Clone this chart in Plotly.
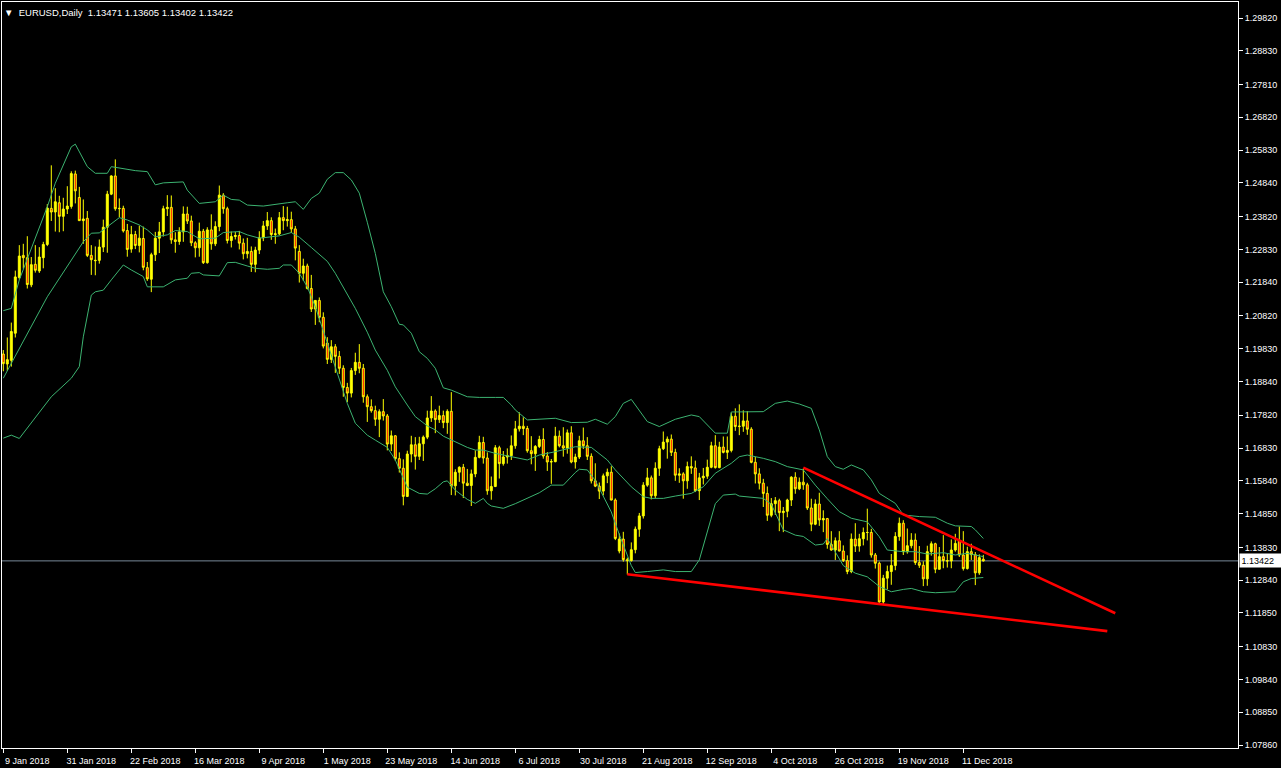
import plotly.graph_objects as go

# ---------------- data ----------------
symbol_title = "EURUSD,Daily"
date_labels = ["9 Jan 2018", "31 Jan 2018", "22 Feb 2018", "16 Mar 2018", "9 Apr 2018",
               "1 May 2018", "23 May 2018", "14 Jun 2018", "6 Jul 2018", "30 Jul 2018",
               "21 Aug 2018", "12 Sep 2018", "4 Oct 2018", "26 Oct 2018", "19 Nov 2018",
               "11 Dec 2018"]
date_label_bars = [0, 16, 32, 48, 64, 80, 96, 112, 128, 144, 160, 176, 192, 208, 224, 240]

opens = [1.1967, 1.1937, 1.1948, 1.2030, 1.2198, 1.2265, 1.2258, 1.2176, 1.2238, 1.2218,
         1.2258, 1.2298, 1.2407, 1.2396, 1.2424, 1.2383, 1.2405, 1.2413, 1.2511, 1.2440,
         1.2370, 1.2377, 1.2265, 1.2249, 1.2250, 1.2290, 1.2350, 1.2450, 1.2505, 1.2406,
         1.2407, 1.2340, 1.2284, 1.2328, 1.2295, 1.2316, 1.2228, 1.2193, 1.2267, 1.2317,
         1.2336, 1.2406, 1.2410, 1.2312, 1.2307, 1.2336, 1.2390, 1.2369, 1.2303, 1.2288,
         1.2338, 1.2243, 1.2342, 1.2300, 1.2352, 1.2447, 1.2406, 1.2310, 1.2322, 1.2325,
         1.2302, 1.2270, 1.2277, 1.2238, 1.2281, 1.2318, 1.2354, 1.2370, 1.2328, 1.2330,
         1.2379, 1.2370, 1.2373, 1.2345, 1.2277, 1.2211, 1.2233, 1.2165, 1.2103, 1.2129,
         1.2078, 1.2000, 1.1951, 1.1989, 1.1960, 1.1924, 1.1866, 1.1849, 1.1917, 1.1942,
         1.1924, 1.1838, 1.1808, 1.1796, 1.1770, 1.1793, 1.1780, 1.1695, 1.1720, 1.1651,
         1.1622, 1.1537, 1.1665, 1.1693, 1.1658, 1.1696, 1.1716, 1.1774, 1.1795, 1.1769,
         1.1781, 1.1760, 1.1794, 1.1569, 1.1610, 1.1625, 1.1577, 1.1570, 1.1605, 1.1655,
         1.1700, 1.1653, 1.1554, 1.1567, 1.1684, 1.1636, 1.1656, 1.1660, 1.1690, 1.1741,
         1.1749, 1.1742, 1.1675, 1.1666, 1.1688, 1.1709, 1.1659, 1.1641, 1.1642, 1.1719,
         1.1690, 1.1683, 1.1729, 1.1641, 1.1656, 1.1705, 1.1690, 1.1658, 1.1584, 1.1568,
         1.1553, 1.1599, 1.1610, 1.1526, 1.1372, 1.1408, 1.1346, 1.1343, 1.1376, 1.1438,
         1.1478, 1.1571, 1.1593, 1.1539, 1.1622, 1.1681, 1.1701, 1.1710, 1.1670, 1.1601,
         1.1605, 1.1584, 1.1627, 1.1623, 1.1554, 1.1593, 1.1598, 1.1625, 1.1690, 1.1624,
         1.1686, 1.1670, 1.1676, 1.1779, 1.1748, 1.1749, 1.1765, 1.1740, 1.1640, 1.1605,
         1.1577, 1.1546, 1.1480, 1.1515, 1.1524, 1.1488, 1.1492, 1.1526, 1.1595, 1.1560,
         1.1580, 1.1572, 1.1502, 1.1453, 1.1514, 1.1466, 1.1470, 1.1392, 1.1375, 1.1403,
         1.1372, 1.1343, 1.1310, 1.1408, 1.1387, 1.1409, 1.1428, 1.1428, 1.1360, 1.1335,
         1.1218, 1.1290, 1.1310, 1.1328, 1.1416, 1.1456, 1.1370, 1.1388, 1.1405, 1.1337,
         1.1329, 1.1288, 1.1370, 1.1394, 1.1317, 1.1355, 1.1343, 1.1342, 1.1375, 1.1404,
         1.1360, 1.1319, 1.1370, 1.1361, 1.1306, 1.13471]
highs = [1.1979, 1.2017, 1.2062, 1.2219, 1.2296, 1.2300, 1.2323, 1.2260, 1.2296, 1.2290,
         1.2306, 1.2420, 1.2537, 1.2468, 1.2445, 1.2439, 1.2474, 1.2519, 1.2521, 1.2472,
         1.2434, 1.2399, 1.2296, 1.2292, 1.2313, 1.2373, 1.2460, 1.2507, 1.2555, 1.2437,
         1.2415, 1.2360, 1.2354, 1.2339, 1.2355, 1.2352, 1.2245, 1.2273, 1.2336, 1.2366,
         1.2415, 1.2447, 1.2446, 1.2335, 1.2350, 1.2413, 1.2412, 1.2385, 1.2308, 1.2364,
         1.2345, 1.2350, 1.2389, 1.2368, 1.2476, 1.2453, 1.2412, 1.2337, 1.2336, 1.2339,
         1.2316, 1.2318, 1.2292, 1.2291, 1.2338, 1.2369, 1.2396, 1.2380, 1.2346, 1.2396,
         1.2414, 1.2412, 1.2397, 1.2354, 1.2296, 1.2255, 1.2240, 1.2206, 1.2130, 1.2138,
         1.2093, 1.2018, 1.2009, 1.1997, 1.1976, 1.1933, 1.1880, 1.1925, 1.1971, 1.1997,
         1.1937, 1.1845, 1.1830, 1.1811, 1.1800, 1.1831, 1.1786, 1.1736, 1.1722, 1.1670,
         1.1649, 1.1675, 1.1720, 1.1716, 1.1717, 1.1721, 1.1796, 1.1840, 1.1800, 1.1811,
         1.1796, 1.1800, 1.1852, 1.1619, 1.1628, 1.1635, 1.1620, 1.1618, 1.1676, 1.1720,
         1.1717, 1.1670, 1.1597, 1.1692, 1.1690, 1.1674, 1.1682, 1.1721, 1.1765, 1.1791,
         1.1776, 1.1750, 1.1719, 1.1692, 1.1720, 1.1743, 1.1671, 1.1650, 1.1747, 1.1736,
         1.1746, 1.1739, 1.1749, 1.1666, 1.1720, 1.1745, 1.1716, 1.1667, 1.1637, 1.1579,
         1.1606, 1.1621, 1.1628, 1.1531, 1.1425, 1.1430, 1.1352, 1.1398, 1.1446, 1.1487,
         1.1580, 1.1623, 1.1600, 1.1640, 1.1690, 1.1733, 1.1718, 1.1724, 1.1681, 1.1622,
         1.1610, 1.1642, 1.1658, 1.1645, 1.1608, 1.1623, 1.1648, 1.1702, 1.1722, 1.1702,
         1.1718, 1.1718, 1.1790, 1.1803, 1.1815, 1.1797, 1.1795, 1.1746, 1.1656, 1.1622,
         1.1590, 1.1567, 1.1532, 1.1535, 1.1530, 1.1505, 1.1530, 1.1598, 1.1610, 1.1594,
         1.1621, 1.1578, 1.1530, 1.1528, 1.1548, 1.1495, 1.1472, 1.1432, 1.1413, 1.1432,
         1.1389, 1.1359, 1.1425, 1.1456, 1.1424, 1.1443, 1.1500, 1.1439, 1.1366, 1.1340,
         1.1300, 1.1328, 1.1363, 1.1429, 1.1473, 1.1465, 1.1440, 1.1426, 1.1425, 1.1387,
         1.1341, 1.1388, 1.1401, 1.1397, 1.1384, 1.1420, 1.1365, 1.1407, 1.1424, 1.1446,
         1.1432, 1.1385, 1.1394, 1.1369, 1.1362, 1.13605]
lows = [1.1915, 1.1916, 1.1929, 1.2017, 1.2192, 1.2225, 1.2165, 1.2169, 1.2213, 1.2212,
        1.2226, 1.2293, 1.2369, 1.2337, 1.2335, 1.2338, 1.2390, 1.2406, 1.2422, 1.2371,
        1.2300, 1.2260, 1.2206, 1.2205, 1.2240, 1.2275, 1.2273, 1.2447, 1.2400, 1.2380,
        1.2334, 1.2261, 1.2273, 1.2284, 1.2274, 1.2220, 1.2188, 1.2154, 1.2248, 1.2272,
        1.2322, 1.2384, 1.2300, 1.2273, 1.2297, 1.2306, 1.2360, 1.2293, 1.2259, 1.2261,
        1.2239, 1.2240, 1.2282, 1.2293, 1.2338, 1.2391, 1.2301, 1.2289, 1.2313, 1.2283,
        1.2253, 1.2256, 1.2215, 1.2214, 1.2269, 1.2308, 1.2342, 1.2312, 1.2300, 1.2326,
        1.2341, 1.2352, 1.2333, 1.2250, 1.2183, 1.2188, 1.2162, 1.2094, 1.2055, 1.2063,
        1.1984, 1.1937, 1.1940, 1.1910, 1.1907, 1.1838, 1.1822, 1.1836, 1.1904, 1.1909,
        1.1820, 1.1762, 1.1790, 1.1750, 1.1716, 1.1766, 1.1676, 1.1674, 1.1644, 1.1609,
        1.1510, 1.1535, 1.1640, 1.1618, 1.1647, 1.1644, 1.1710, 1.1762, 1.1728, 1.1759,
        1.1743, 1.1726, 1.1541, 1.1540, 1.1581, 1.1532, 1.1568, 1.1508, 1.1595, 1.1652,
        1.1636, 1.1542, 1.1527, 1.1565, 1.1591, 1.1630, 1.1636, 1.1647, 1.1681, 1.1733,
        1.1722, 1.1669, 1.1634, 1.1614, 1.1683, 1.1651, 1.1614, 1.1575, 1.1640, 1.1685,
        1.1657, 1.1666, 1.1637, 1.1621, 1.1650, 1.1680, 1.1647, 1.1576, 1.1565, 1.1529,
        1.1540, 1.1577, 1.1525, 1.1405, 1.1365, 1.1340, 1.1301, 1.1340, 1.1365, 1.1415,
        1.1470, 1.1566, 1.1528, 1.1532, 1.1599, 1.1677, 1.1651, 1.1659, 1.1584, 1.1578,
        1.1530, 1.1560, 1.1605, 1.1550, 1.1526, 1.1573, 1.1590, 1.1622, 1.1621, 1.1622,
        1.1667, 1.1650, 1.1670, 1.1735, 1.1722, 1.1732, 1.1723, 1.1637, 1.1576, 1.1558,
        1.1505, 1.1463, 1.1474, 1.1481, 1.1432, 1.1429, 1.1474, 1.1508, 1.1545, 1.1556,
        1.1557, 1.1496, 1.1432, 1.1450, 1.1448, 1.1429, 1.1379, 1.1373, 1.1345, 1.1371,
        1.1339, 1.1302, 1.1305, 1.1369, 1.1370, 1.1389, 1.1404, 1.1352, 1.1319, 1.1216,
        1.1212, 1.1256, 1.1270, 1.1314, 1.1403, 1.1360, 1.1364, 1.1380, 1.1330, 1.1321,
        1.1266, 1.1267, 1.1358, 1.1305, 1.1316, 1.1320, 1.1322, 1.1320, 1.1370, 1.1354,
        1.1313, 1.1316, 1.1345, 1.1269, 1.1300, 1.13402]
closes = [1.1938, 1.1950, 1.2035, 1.2200, 1.2263, 1.2258, 1.2177, 1.2237, 1.2220, 1.2260,
          1.2298, 1.2408, 1.2396, 1.2427, 1.2383, 1.2405, 1.2414, 1.2512, 1.2460, 1.2370,
          1.2375, 1.2265, 1.2252, 1.2250, 1.2290, 1.2350, 1.2450, 1.2505, 1.2406, 1.2407,
          1.2339, 1.2283, 1.2328, 1.2295, 1.2317, 1.2229, 1.2194, 1.2267, 1.2317, 1.2336,
          1.2406, 1.2410, 1.2312, 1.2307, 1.2336, 1.2390, 1.2369, 1.2303, 1.2288, 1.2338,
          1.2243, 1.2342, 1.2300, 1.2352, 1.2447, 1.2406, 1.2310, 1.2322, 1.2325, 1.2302,
          1.2270, 1.2277, 1.2238, 1.2281, 1.2318, 1.2354, 1.2370, 1.2328, 1.2330, 1.2379,
          1.2370, 1.2373, 1.2345, 1.2287, 1.2211, 1.2233, 1.2165, 1.2103, 1.2129, 1.2078,
          1.1991, 1.1951, 1.1989, 1.1960, 1.1924, 1.1866, 1.1849, 1.1917, 1.1942, 1.1924,
          1.1838, 1.1808, 1.1796, 1.1770, 1.1793, 1.1780, 1.1695, 1.1720, 1.1651, 1.1622,
          1.1537, 1.1665, 1.1693, 1.1658, 1.1696, 1.1716, 1.1774, 1.1795, 1.1769, 1.1781,
          1.1760, 1.1794, 1.1569, 1.1610, 1.1625, 1.1577, 1.1570, 1.1605, 1.1655, 1.1700,
          1.1653, 1.1554, 1.1567, 1.1684, 1.1636, 1.1656, 1.1660, 1.1690, 1.1741, 1.1749,
          1.1742, 1.1675, 1.1666, 1.1688, 1.1709, 1.1659, 1.1641, 1.1642, 1.1719, 1.1690,
          1.1683, 1.1729, 1.1641, 1.1656, 1.1705, 1.1690, 1.1658, 1.1584, 1.1568, 1.1553,
          1.1599, 1.1610, 1.1526, 1.1410, 1.1408, 1.1346, 1.1343, 1.1376, 1.1438, 1.1478,
          1.1571, 1.1593, 1.1539, 1.1622, 1.1681, 1.1701, 1.1710, 1.1670, 1.1601, 1.1605,
          1.1584, 1.1627, 1.1623, 1.1554, 1.1593, 1.1598, 1.1625, 1.1690, 1.1624, 1.1686,
          1.1670, 1.1676, 1.1779, 1.1748, 1.1749, 1.1765, 1.1740, 1.1640, 1.1605, 1.1577,
          1.1546, 1.1480, 1.1515, 1.1524, 1.1488, 1.1492, 1.1526, 1.1595, 1.1560, 1.1580,
          1.1572, 1.1502, 1.1453, 1.1514, 1.1466, 1.1470, 1.1392, 1.1375, 1.1403, 1.1372,
          1.1343, 1.1310, 1.1408, 1.1387, 1.1409, 1.1428, 1.1428, 1.1360, 1.1335, 1.1218,
          1.1290, 1.1310, 1.1328, 1.1416, 1.1456, 1.1370, 1.1388, 1.1405, 1.1337, 1.1329,
          1.1288, 1.1370, 1.1394, 1.1317, 1.1355, 1.1343, 1.1342, 1.1375, 1.1395, 1.1360,
          1.1319, 1.1370, 1.1361, 1.1306, 1.1352, 1.13422]
bars = list(range(len(closes)))

# Bollinger bands (20, 2) at sample bars
bb_upper_bars = [0, 2, 4, 11, 13, 17, 18, 21, 23, 26, 27, 33, 36, 38, 40, 45, 46, 49, 53, 55,
                 57, 59, 61, 65, 71, 73, 75, 77, 79, 81, 83, 85, 87, 89, 91, 93, 95, 97, 99, 100,
                 102, 104, 106, 108, 110, 112, 116, 119, 123, 125, 127, 128, 131, 134, 138, 142,
                 146, 148, 151, 153, 155, 157, 161, 164, 168, 172, 174, 178, 181, 182, 190, 193,
                 196, 199, 202, 204, 206, 208, 210, 212, 215, 217, 219, 223, 225, 229, 233, 236,
                 238, 242, 243, 245]
bb_upper = [1.2098, 1.2105, 1.2191, 1.2412, 1.2483, 1.2593, 1.2601, 1.2533, 1.2513, 1.2513,
            1.2533, 1.2521, 1.2518, 1.2478, 1.2484, 1.2487, 1.2462, 1.2422, 1.2427, 1.2447,
            1.2434, 1.2432, 1.2417, 1.2414, 1.2424, 1.2427, 1.2404, 1.2437, 1.2453, 1.2495,
            1.2515, 1.2515, 1.2493, 1.2453, 1.2365, 1.2271, 1.2155, 1.2110, 1.2057, 1.2055,
            1.2030, 1.1974, 1.1954, 1.1924, 1.1865, 1.1858, 1.1838, 1.1836, 1.1836, 1.1836,
            1.1813, 1.1798, 1.1768, 1.1770, 1.1773, 1.1760, 1.1761, 1.1770, 1.1755, 1.1778,
            1.1818, 1.1830, 1.1763, 1.1748, 1.1770, 1.1783, 1.1778, 1.1728, 1.1728, 1.1792,
            1.1793, 1.1818, 1.1825, 1.1816, 1.1803, 1.1738, 1.1657, 1.1627, 1.1619, 1.1632,
            1.1617, 1.1587, 1.1546, 1.1516, 1.1481, 1.1476, 1.1474, 1.1456, 1.1448, 1.1446,
            1.1436, 1.1410]
bb_middle_bars = [0, 11, 20, 22, 24, 29, 31, 34, 36, 38, 41, 43, 46, 49, 53, 55, 59, 61, 64, 69,
                  72, 74, 77, 81, 83, 86, 88, 91, 93, 96, 98, 101, 103, 106, 108, 110, 113, 116,
                  118, 120, 123, 127, 131, 134, 138, 143, 147, 151, 153, 157, 160, 162, 165, 168,
                  172, 175, 178, 182, 184, 186, 190, 193, 196, 200, 203, 206, 209, 212, 216, 219,
                  221, 225, 228, 231, 235, 238, 241, 245]
bb_middle = [1.1894, 1.2140, 1.2306, 1.2332, 1.2333, 1.2379, 1.2372, 1.2357, 1.2342, 1.2321,
             1.2327, 1.2340, 1.2337, 1.2315, 1.2317, 1.2334, 1.2337, 1.2327, 1.2317, 1.2324,
             1.2334, 1.2320, 1.2289, 1.2247, 1.2211, 1.2150, 1.2105, 1.2033, 1.1979, 1.1918,
             1.1868, 1.1813, 1.1778, 1.1750, 1.1738, 1.1719, 1.1702, 1.1685, 1.1677, 1.1677,
             1.1667, 1.1657, 1.1647, 1.1662, 1.1672, 1.1687, 1.1685, 1.1647, 1.1617, 1.1566,
             1.1536, 1.1531, 1.1531, 1.1538, 1.1546, 1.1566, 1.1607, 1.1637, 1.1657, 1.1662,
             1.1652, 1.1642, 1.1627, 1.1617, 1.1571, 1.1530, 1.1491, 1.1471, 1.1460, 1.1415,
             1.1375, 1.1370, 1.1370, 1.1363, 1.1367, 1.1360, 1.1365, 1.1355]
bb_lower_bars = [0, 2, 4, 6, 12, 17, 19, 20, 22, 23, 25, 27, 30, 32, 35, 36, 40, 43, 46, 47,
                 49, 50, 54, 56, 58, 61, 63, 66, 69, 70, 72, 74, 76, 78, 83, 86, 88, 91, 93, 96,
                 98, 100, 101, 104, 106, 108, 110, 111, 113, 116, 118, 120, 121, 122, 125, 128,
                 132, 134, 137, 140, 143, 144, 146, 148, 152, 154, 157, 158, 161, 165, 168, 172,
                 174, 176, 178, 180, 183, 184, 186, 190, 192, 195, 198, 200, 203, 205, 206, 208,
                 210, 213, 216, 219, 222, 225, 227, 230, 233, 238, 240, 242, 245]
bb_lower = [1.1713, 1.1722, 1.1712, 1.1743, 1.1838, 1.1894, 1.1929, 1.2019, 1.2145, 1.2155,
            1.2160, 1.2191, 1.2236, 1.2221, 1.2201, 1.2170, 1.2170, 1.2191, 1.2196, 1.2211,
            1.2213, 1.2206, 1.2203, 1.2243, 1.2244, 1.2233, 1.2226, 1.2223, 1.2226, 1.2236,
            1.2236, 1.2211, 1.2170, 1.2110, 1.1929, 1.1818, 1.1758, 1.1722, 1.1707, 1.1685,
            1.1647, 1.1590, 1.1565, 1.1546, 1.1544, 1.1560, 1.1581, 1.1584, 1.1556, 1.1528,
            1.1516, 1.1531, 1.1516, 1.1508, 1.1501, 1.1515, 1.1538, 1.1548, 1.1571, 1.1571,
            1.1609, 1.1619, 1.1617, 1.1585, 1.1490, 1.1422, 1.1328, 1.1307, 1.1310, 1.1315,
            1.1310, 1.1310, 1.1345, 1.1430, 1.1515, 1.1541, 1.1544, 1.1538, 1.1536, 1.1531,
            1.1513, 1.1436, 1.1420, 1.1416, 1.1390, 1.1393, 1.1410, 1.1370, 1.1328, 1.1305,
            1.1294, 1.1265, 1.1249, 1.1256, 1.1259, 1.1249, 1.1246, 1.1249, 1.1279, 1.1289,
            1.1292]

# hand-drawn trend lines (bar, price)
trend_upper_bars = [200, 278]
trend_upper_prices = [1.1624, 1.1184]
trend_lower_bars = [156, 276]
trend_lower_prices = [1.1302, 1.1130]

price_ticks = [1.29820, 1.28830, 1.27810, 1.26820, 1.25830, 1.24840, 1.23820, 1.22830,
               1.21840, 1.20820, 1.19830, 1.18840, 1.17820, 1.16830, 1.15840, 1.14850,
               1.13830, 1.12840, 1.11850, 1.10830, 1.09840, 1.08850, 1.07860]

# ---------------- figure ----------------
FONT = "Liberation Sans, Arial, sans-serif"
fig = go.Figure()

fig.add_trace(go.Candlestick(
    x=bars, open=opens, high=highs, low=lows, close=closes,
    increasing=dict(line=dict(color="#FFFF00", width=1), fillcolor="#FFFF00"),
    decreasing=dict(line=dict(color="#FFFF00", width=1), fillcolor="#FF0000"),
    whiskerwidth=0, hoverinfo="skip", name="EURUSD"))

band_color = "#3CB371"
for bx, by in ((bb_upper_bars, bb_upper), (bb_middle_bars, bb_middle), (bb_lower_bars, bb_lower)):
    fig.add_trace(go.Scatter(x=bx, y=by, mode="lines",
                             line=dict(color=band_color, width=1), hoverinfo="skip"))

for tx, ty in ((trend_upper_bars, trend_upper_prices), (trend_lower_bars, trend_lower_prices)):
    fig.add_trace(go.Scatter(x=tx, y=ty, mode="lines",
                             line=dict(color="#FF0000", width=2.6), hoverinfo="skip"))

last_price = closes[-1]
fig.add_shape(type="line", xref="paper", x0=0, x1=1, yref="y", y0=last_price, y1=last_price,
              line=dict(color="#778899", width=1), layer="below")

title_text = ("\u25BC\u00a0 " + symbol_title + "\u00a0 " +
              " ".join(f"{v:.5f}" for v in (opens[-1], highs[-1], lows[-1], closes[-1])))
fig.add_annotation(xref="paper", yref="paper", x=0, y=1, xanchor="left", yanchor="top",
                   xshift=0, yshift=-3, showarrow=False, text=title_text,
                   font=dict(family=FONT, size=9.5, color="white"))
fig.add_annotation(xref="paper", yref="y", x=1, y=last_price, xanchor="left", yanchor="middle",
                   xshift=1, showarrow=False, text=f"{last_price:.5f}", bgcolor="white",
                   font=dict(family=FONT, size=9, color="black"), borderpad=1.5,
                   width=38, align="left")

fig.update_layout(
    width=1281, height=768,
    paper_bgcolor="black", plot_bgcolor="black",
    margin=dict(l=2, r=43, t=2, b=20),
    showlegend=False,
    xaxis=dict(range=[-0.325, 308.675], tickmode="array", tickvals=date_label_bars,
               ticktext=date_labels, ticks="outside", ticklen=4, tickcolor="white",
               tickfont=dict(family=FONT, size=9, color="white"), ticklabelshift=24,
               showgrid=False, zeroline=False, showline=True, linecolor="white",
               linewidth=1, mirror=True, rangeslider=dict(visible=False), fixedrange=True),
    yaxis=dict(side="right", range=[1.07770, 1.30304], tickmode="array", tickvals=price_ticks,
               ticktext=[f"{v:.5f}" for v in price_ticks], ticks="outside", ticklen=4,
               tickcolor="white", tickfont=dict(family=FONT, size=9, color="white"),
               showgrid=False, zeroline=False, showline=True, linecolor="white",
               linewidth=1, mirror=True, fixedrange=True),
)

fig.write_html("out.html", config={"displayModeBar": False},
               post_script="document.body.style.margin='0';")
